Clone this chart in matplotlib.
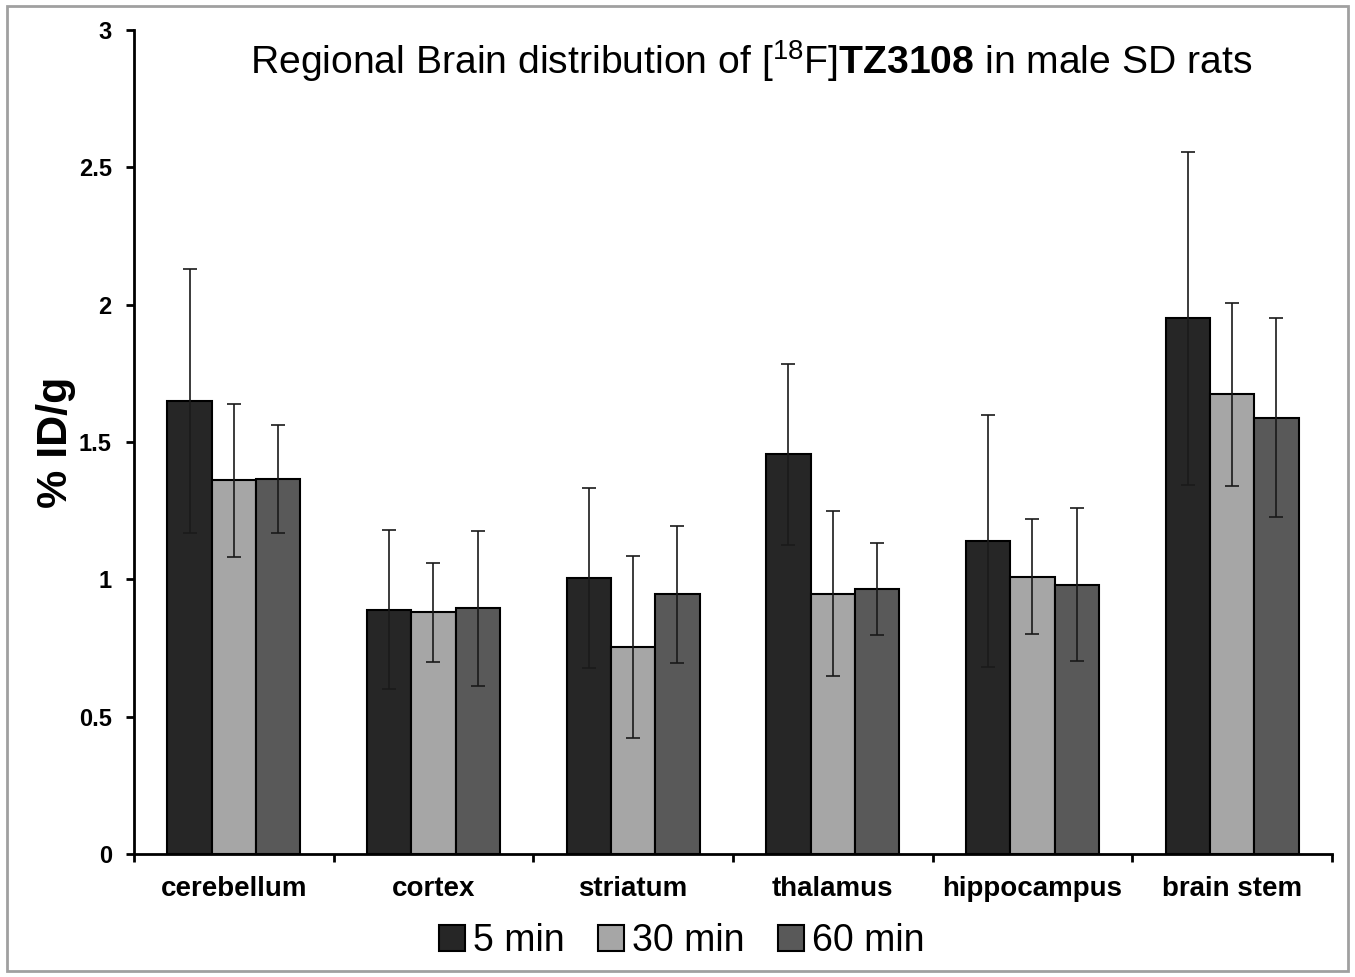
import matplotlib.pyplot as plt
import numpy as np
from matplotlib.patches import Rectangle

plt.rcParams["font.family"] = ["Liberation Sans", "DejaVu Sans"]
plt.rcParams["mathtext.fontset"] = "custom"
plt.rcParams["mathtext.rm"] = "Liberation Sans"
plt.rcParams["mathtext.bf"] = "Liberation Sans:bold"

regions = ["cerebellum", "cortex", "striatum", "thalamus", "hippocampus", "brain stem"]
series_names = ["5 min", "30 min", "60 min"]

# mean %ID/g per region
values_5min = [1.65, 0.89, 1.005, 1.455, 1.14, 1.95]
values_30min = [1.36, 0.88, 0.753, 0.948, 1.01, 1.674]
values_60min = [1.365, 0.894, 0.945, 0.966, 0.98, 1.588]

# error bar half-widths
errors_5min = [0.48, 0.288, 0.327, 0.33, 0.46, 0.607]
errors_30min = [0.28, 0.18, 0.332, 0.30, 0.21, 0.333]
errors_60min = [0.198, 0.283, 0.25, 0.167, 0.278, 0.362]

colors = ["#262626", "#a6a6a6", "#595959"]


def main():
    fig = plt.figure(figsize=(13.55, 9.77), dpi=100)
    ax = fig.add_axes([0.0989, 0.1259, 0.8841, 0.8434])

    # grey frame around the whole picture
    fig.patches.append(Rectangle((0.005, 0.006), 0.99, 0.988, transform=fig.transFigure,
                                 fill=False, edgecolor="#a0a0a0", linewidth=2))

    centers = np.arange(len(regions)) + 0.5
    bar_width = 0.222
    all_values = [values_5min, values_30min, values_60min]
    all_errors = [errors_5min, errors_30min, errors_60min]

    for i in range(3):
        x = centers + (i - 1) * bar_width
        ax.bar(x, all_values[i], width=bar_width, color=colors[i],
               edgecolor="black", linewidth=1.5, label=series_names[i], zorder=2)
        ax.errorbar(x, all_values[i], yerr=all_errors[i], fmt="none",
                    ecolor="#1a1a1a", elinewidth=1.2, capsize=5, capthick=1.2, zorder=3)

    ax.set_xlim(0, len(regions))
    ax.set_ylim(0, 3)
    ax.set_yticks([0, 0.5, 1, 1.5, 2, 2.5, 3])
    ax.set_yticklabels(["0", "0.5", "1", "1.5", "2", "2.5", "3"],
                       fontsize=17, fontweight="bold")

    # boundary ticks on x, labels at category centers
    ax.set_xticks(np.arange(len(regions) + 1))
    ax.set_xticklabels([])
    ax.set_xticks(centers, minor=True)
    ax.set_xticklabels(regions, minor=True, fontsize=20, fontweight="bold")
    ax.tick_params(axis="x", which="minor", length=0, pad=16)
    ax.tick_params(axis="x", which="major", length=6, width=2, direction="out")
    ax.tick_params(axis="y", length=6, width=2, direction="out", pad=10)

    for side in ["top", "right"]:
        ax.spines[side].set_visible(False)
    for side in ["left", "bottom"]:
        ax.spines[side].set_linewidth(2)

    ax.set_ylabel("% ID/g", fontsize=31, fontweight="bold", labelpad=2)

    ax.text(0.515, 0.962, r"Regional Brain distribution of [$^{18}$F]$\mathbf{TZ3108}$ in male SD rats",
            transform=ax.transAxes, ha="center", va="center", fontsize=28.2)

    fig.legend(loc="center", bbox_to_anchor=(0.503, 0.037), ncol=3, frameon=False,
               fontsize=27, handlelength=0.7, handleheight=0.7, handletextpad=0.2,
               columnspacing=0.9)

    fig.savefig("out.png", dpi=100, facecolor="white")
    plt.close(fig)


if __name__ == "__main__":
    main()
